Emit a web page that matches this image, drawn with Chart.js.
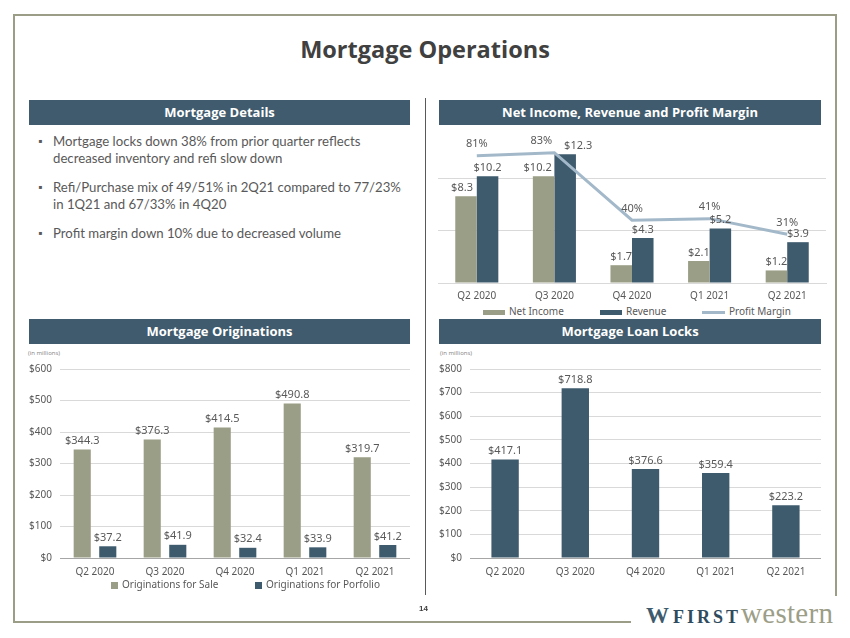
<!DOCTYPE html>
<html lang="en">
<head>
<meta charset="UTF-8" />
<title>Mortgage Operations</title>
<script src="https://cdn.jsdelivr.net/npm/chart.js"></script>
<style>
  body { margin:0; width:850px; height:638px; background:#fff; position:relative; overflow:hidden; font-family:"Open Sans", sans-serif; color:#595959; }
  .abs { position:absolute; }
  .rule { position:absolute; background:#9c9d87; }
  .title { left:0; top:33px; width:850px; text-align:center; font-size:23.5px; font-weight:700; color:#404040; }
  .bar { height:25px; line-height:25px; background:#3f5b6d; color:#fff; font-weight:700; font-size:13px; text-align:center; }
  .bullets { left:38px; top:133px; width:380px; font-family:Lato, sans-serif; font-size:13.2px; line-height:16.5px; }
  .bullets p { margin:0 0 13px 0; padding-left:15px; position:relative; }
  .bullets p:before { content:"\25AA"; position:absolute; left:0; top:0; font-size:11px; }
  .unit { font-size:6px; color:#7f7f7f; }
  .legend { font-family:"Noto Sans", sans-serif; font-size:10px; color:#595959; white-space:nowrap; }
  .legend span.sw { display:inline-block; vertical-align:middle; margin-right:4px; }
  canvas { position:absolute; }
</style>
</head>
<body>
  <div class="rule" style="left:13px; top:14px; width:824px; height:2px;"></div>
  <div class="rule" style="left:13px; top:14px; width:2px; height:609px;"></div>
  <div class="rule" style="left:835px; top:14px; width:2px; height:582px;"></div>
  <div class="rule" style="left:13px; top:621px; width:618px; height:2px;"></div>
  <div class="abs" style="left:425px; top:98px; width:1px; height:497px; background:#595959;"></div>

  <div class="abs title">Mortgage Operations</div>

  <div class="abs bar" style="left:29px; top:100px; width:381px;">Mortgage Details</div>
  <div class="abs bar" style="left:439px; top:100px; width:382px;">Net Income, Revenue and Profit Margin</div>
  <div class="abs bar" style="left:29px; top:319px; width:381px;">Mortgage Originations</div>
  <div class="abs bar" style="left:439px; top:319px; width:382px;">Mortgage Loan Locks</div>

  <div class="abs bullets">
    <p>Mortgage locks down 38% from prior quarter reflects<br>decreased inventory and refi slow down</p>
    <p>Refi/Purchase mix of 49/51% in 2Q21 compared to 77/23%<br>in 1Q21 and 67/33% in 4Q20</p>
    <p>Profit margin down 10% due to decreased volume</p>
  </div>

  <div class="abs unit" style="left:28px; top:349px;">(in millions)</div>
  <div class="abs unit" style="left:440px; top:349px;">(in millions)</div>

  <canvas id="incomeChart" width="400" height="183" style="left:430px; top:120px;"></canvas>
  <canvas id="origChart" width="390" height="227" style="left:20px; top:355px;"></canvas>
  <canvas id="locksChart" width="391" height="227" style="left:430px; top:355px;"></canvas>

  <div class="abs legend" style="left:483px; top:304px;">
    <span class="sw" style="width:22px; height:5px; background:#9b9e86;"></span>Net Income
  </div>
  <div class="abs legend" style="left:600px; top:304px;">
    <span class="sw" style="width:22px; height:5px; background:#3e5b6e;"></span>Revenue
  </div>
  <div class="abs legend" style="left:702px; top:304px;">
    <span class="sw" style="width:23px; height:3px; background:#a3b9ca;"></span>Profit Margin
  </div>
  <div class="abs legend" style="left:111px; top:577px;">
    <span class="sw" style="width:7px; height:7px; background:#9b9e86;"></span>Originations for Sale
  </div>
  <div class="abs legend" style="left:255px; top:577px;">
    <span class="sw" style="width:7px; height:7px; background:#3e5b6e;"></span>Originations for Porfolio
  </div>

  <div class="abs" style="left:419px; top:604px; font-family:'Liberation Sans', sans-serif; font-size:8px; font-weight:700; color:#404040;">14</div>
  <div class="abs" style="left:646px; top:597px; white-space:nowrap; font-family:'Liberation Serif', serif;">
    <span style="font-size:23px; font-weight:700; color:#3e5b6e;">W</span>
    <span style="font-size:18px; letter-spacing:3px; color:#2f4b5e; font-weight:700;">FIRST</span><span style="font-size:29px; letter-spacing:0.3px; color:#9c9e88;">western</span>
  </div>

  <script>
    const quarters = ['Q2 2020', 'Q3 2020', 'Q4 2020', 'Q1 2021', 'Q2 2021'];

    // Net income / revenue ($M) and profit margin (%)
    const netIncome = [8.3, 10.2, 1.7, 2.1, 1.2];
    const revenue = [10.2, 12.3, 4.3, 5.2, 3.9];
    const profitMargin = [81, 83, 40, 41, 31];

    // Originations ($M)
    const origForSale = [344.3, 376.3, 414.5, 490.8, 319.7];
    const origForPortfolio = [37.2, 41.9, 32.4, 33.9, 41.2];

    // Loan locks ($M)
    const loanLocks = [417.1, 718.8, 376.6, 359.4, 223.2];

    const olive = '#9b9e86';
    const navy = '#3e5b6e';
    const lineBlue = '#a3b9ca';

    // labels that were moved sideways on the slide so they don't collide
    const labelNudge = { 'Net Income:0': -4, 'Net Income:1': -6, 'Revenue:1': 13, 'Profit Margin:1': -13 };

    Chart.defaults.font.family = '"Noto Sans", sans-serif';
    Chart.defaults.font.size = 10;
    Chart.defaults.color = '#595959';

    // draws the value above each bar / point
    const valueLabels = {
      id: 'valueLabels',
      afterDatasetsDraw(chart) {
        const ctx = chart.ctx;
        ctx.save();
        ctx.font = '11px "Noto Sans", sans-serif';
        ctx.fillStyle = '#595959';
        ctx.textAlign = 'center';
        ctx.textBaseline = 'bottom';
        chart.data.datasets.forEach((ds, i) => {
          const meta = chart.getDatasetMeta(i);
          const isLine = meta.type === 'line';
          meta.data.forEach((el, j) => {
            const v = ds.data[j];
            const txt = isLine ? v + '%' : '$' + v.toFixed(1);
            const dx = labelNudge[ds.label + ':' + j] || 0;
            ctx.fillText(txt, el.x + dx, el.y - (isLine ? 6 : 3));
          });
        });
        ctx.restore();
      }
    };

    new Chart(document.getElementById('incomeChart'), {
      type: 'bar',
      data: {
        labels: quarters,
        datasets: [
          { label: 'Net Income', data: netIncome, backgroundColor: olive, categoryPercentage: 0.555, barPercentage: 1, order: 1 },
          { label: 'Revenue', data: revenue, backgroundColor: navy, categoryPercentage: 0.555, barPercentage: 1, order: 1 },
          { type: 'line', label: 'Profit Margin', data: profitMargin, yAxisID: 'y1', borderColor: lineBlue, backgroundColor: lineBlue, borderWidth: 3, pointRadius: 0, tension: 0, order: 0 }
        ]
      },
      options: {
        responsive: false,
        animation: false,
        layout: { padding: { left: 8, right: 4, top: 6, bottom: 0 } },
        plugins: { legend: { display: false }, tooltip: { enabled: false } },
        scales: {
          x: {
            grid: { display: false, drawTicks: false },
            border: { color: '#d9d9d9' },
            ticks: { padding: 7 },
            afterFit: s => { s.height = 20; }
          },
          y: {
            min: 0, max: 15,
            ticks: { display: false, stepSize: 5 },
            grid: { drawTicks: false, color: c => c.tick.value === 15 ? 'rgba(0,0,0,0)' : '#d9d9d9' },
            border: { display: false },
            afterFit: s => { s.width = 0; }
          },
          y1: { min: 0, max: 100, display: false, position: 'right' }
        }
      },
      plugins: [valueLabels]
    });

    new Chart(document.getElementById('origChart'), {
      type: 'bar',
      data: {
        labels: quarters,
        datasets: [
          { label: 'Originations for Sale', data: origForSale, backgroundColor: olive, categoryPercentage: 0.73, barPercentage: 0.67 },
          { label: 'Originations for Porfolio', data: origForPortfolio, backgroundColor: navy, categoryPercentage: 0.73, barPercentage: 0.67 }
        ]
      },
      options: {
        responsive: false,
        animation: false,
        layout: { padding: { top: 7 } },
        plugins: { legend: { display: false }, tooltip: { enabled: false } },
        scales: {
          x: {
            grid: { display: false, drawTicks: false },
            border: { color: '#a6a6a6' },
            ticks: { padding: 8 },
            afterFit: s => { s.height = 24; }
          },
          y: {
            min: 0, max: 600,
            ticks: { stepSize: 100, padding: 8, callback: v => '$' + v },
            grid: { color: '#d9d9d9', drawTicks: false },
            border: { display: false },
            afterFit: s => { s.width = 40; }
          }
        }
      },
      plugins: [valueLabels]
    });

    new Chart(document.getElementById('locksChart'), {
      type: 'bar',
      data: {
        labels: quarters,
        datasets: [
          { label: 'Mortgage Loan Locks', data: loanLocks, backgroundColor: navy, categoryPercentage: 1, barPercentage: 0.39 }
        ]
      },
      options: {
        responsive: false,
        animation: false,
        layout: { padding: { top: 7 } },
        plugins: { legend: { display: false }, tooltip: { enabled: false } },
        scales: {
          x: {
            grid: { display: false, drawTicks: false },
            border: { color: '#a6a6a6' },
            ticks: { padding: 8 },
            afterFit: s => { s.height = 24; }
          },
          y: {
            min: 0, max: 800,
            ticks: { stepSize: 100, padding: 8, callback: v => '$' + v },
            grid: { color: '#d9d9d9', drawTicks: false },
            border: { display: false },
            afterFit: s => { s.width = 40; }
          }
        }
      },
      plugins: [valueLabels]
    });
  </script>
</body>
</html>
